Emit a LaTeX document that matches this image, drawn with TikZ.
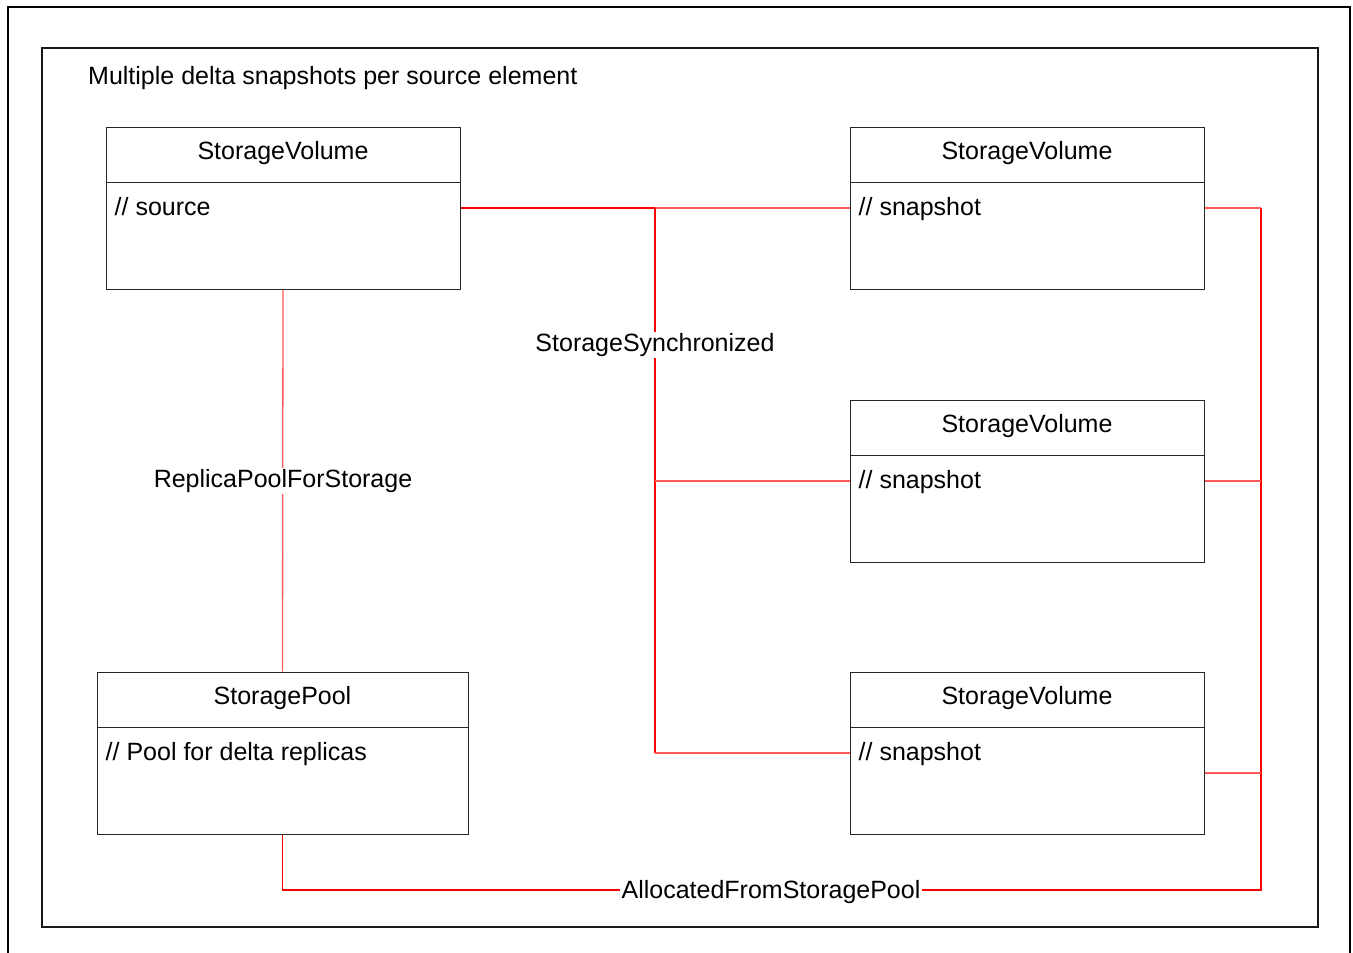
\documentclass[tikz,border=0pt]{standalone}
\usepackage{fontspec}
\setmainfont{Liberation Sans}
\begin{document}
\begin{tikzpicture}[x=1pt,y=-1pt,
  every node/.style={font=\fontsize{25}{30}\selectfont},
  umlbox/.style={draw=black!85, line width=1pt, minimum height=162pt, inner sep=0pt},
  hdr/.style={anchor=base, inner sep=0pt},
  body/.style={anchor=base west, inner sep=0pt},
  assoc/.style={draw=red, line width=1.3pt},
  assocl/.style={draw=red!65, line width=1.3pt},
  lbl/.style={fill=white, inner sep=1.5pt, anchor=base}]
\useasboundingbox (0,0) rectangle (1353,953);
% frames
\draw[line width=2pt] (8,960) -- (8,7) -- (1350,7) -- (1350,960);
\draw[line width=2.5pt, draw=black!90] (42,48) rectangle (1318,927);
\node[anchor=base west, inner sep=0pt] (title) at (88,84) {Multiple delta snapshots per source element};
% boxes
\node[umlbox, minimum width=354pt] (src) at (283,208) {};
\node[umlbox, minimum width=354pt] (s1) at (1027,208) {};
\node[umlbox, minimum width=354pt] (s2) at (1027,481) {};
\node[umlbox, minimum width=354pt] (s3) at (1027,753) {};
\node[umlbox, minimum width=371pt] (pool) at (282.5,753) {};
% dividers
\foreach \b in {src,s1,s2,s3,pool}{
  \draw[draw=black!85, line width=1pt] ([yshift=-56pt]\b.north west) -- ([yshift=-56pt]\b.north east);
}
% headers
\node[hdr] (srch) at ([yshift=-33pt]src.north) {StorageVolume};
\node[hdr] (s1h) at ([yshift=-33pt]s1.north) {StorageVolume};
\node[hdr] (s2h) at ([yshift=-33pt]s2.north) {StorageVolume};
\node[hdr] (s3h) at ([yshift=-33pt]s3.north) {StorageVolume};
\node[hdr] (poolh) at ([yshift=-33pt]pool.north) {StoragePool};
% bodies
\node[body] (srcb) at ([xshift=9pt,yshift=-89pt]src.north west) {// source};
\node[body] (s1b) at ([xshift=9pt,yshift=-89pt]s1.north west) {// snapshot};
\node[body] (s2b) at ([xshift=9pt,yshift=-89pt]s2.north west) {// snapshot};
\node[body] (s3b) at ([xshift=9pt,yshift=-89pt]s3.north west) {// snapshot};
\node[body] (poolb) at ([xshift=9pt,yshift=-89pt]pool.north west) {// Pool for delta replicas};
% StorageSynchronized
\coordinate (j) at (655,208);
\draw[assoc] (src.east) -- (j);
\draw[assocl] (j) -- (s1.west);
\draw[assoc] (j) -- (j |- s3.west);
\draw[assocl] (j |- s2.west) -- (s2.west);
\draw[assocl] (j |- s3.west) -- (s3.west);
\node[lbl] (sync) at (655,351.5) {StorageSynchronized};
% ReplicaPoolForStorage
\draw[assocl] (src.south) -- (pool.north);
\node[lbl] (rpfs) at (283,487.5) {ReplicaPoolForStorage};
% AllocatedFromStoragePool
\coordinate (bus) at (1261,890);
\coordinate (s3r) at ([yshift=-20pt]s3.east);
\draw[assoc, line width=1.6pt] (pool.south) |- (bus) -- (bus |- s1.east);
\draw[assocl] (bus |- s1.east) -- (s1.east);
\draw[assocl] (bus |- s2.east) -- (s2.east);
\draw[assocl] (bus |- s3r) -- (s3r);
\node[lbl] (afsp) at (771,898.5) {AllocatedFromStoragePool};
\end{tikzpicture}
\end{document}
